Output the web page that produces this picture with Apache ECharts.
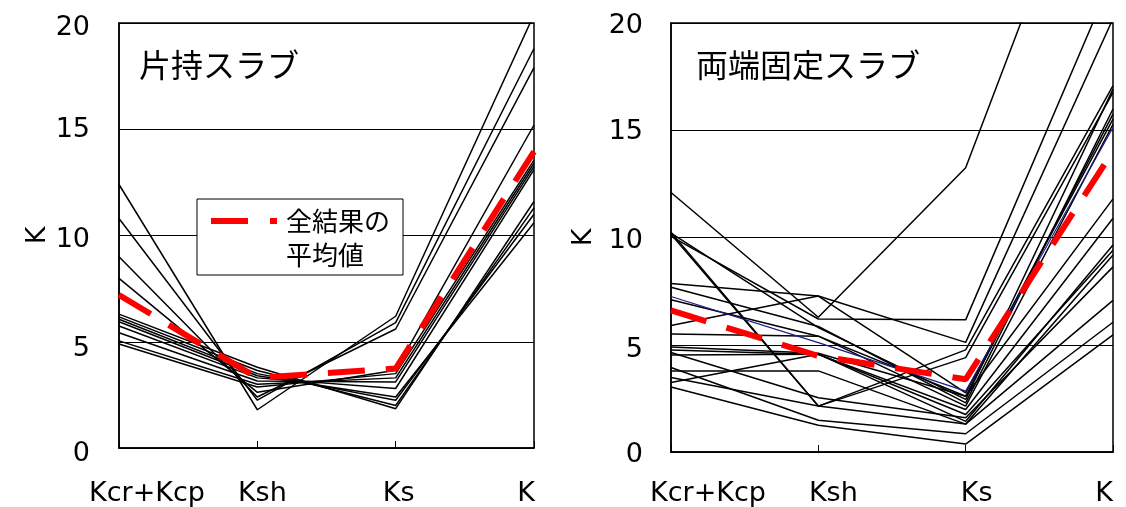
<!DOCTYPE html>
<html><head><meta charset="utf-8">
<script src="https://cdn.jsdelivr.net/npm/echarts@6/dist/echarts.min.js"></script>
<style>html,body{margin:0;padding:0;background:#fff}#c{width:1126px;height:507px}</style>
</head><body><div id="c"></div>
<script>
// ---------------- data ----------------
const categories = ['Kcr+Kcp', 'Ksh', 'Ks', 'K'];
const yMin = 0, yMax = 20, yInterval = 5;
const leftTitle = '片持スラブ';
const rightTitle = '両端固定スラブ';
const meanName = '全結果の平均値';
const meanLabel = '全結果の\n平均値';

// 片持スラブ: individual results [Kcr+Kcp, Ksh, Ks, K]
const leftLines = [
  [12.4, 1.8, 6.2, 20.4],
  [10.8, 2.25, 5.9, 18.8],
  [9.0, 2.4, 5.6, 17.9],
  [7.98, 2.62, 3.66, 15.2],
  [6.30, 3.8, 1.85, 11.6],
  [6.17, 3.65, 2.0, 11.3],
  [6.06, 3.5, 2.25, 11.0],
  [5.94, 3.4, 2.4, 10.6],
  [5.74, 3.3, 2.8, 13.1],
  [5.42, 3.15, 3.11, 13.25],
  [5.04, 3.0, 3.3, 13.4],
  [4.89, 2.87, 3.5, 13.55]
];
const leftMean = [7.2, 3.3, 3.74, 13.95];

// 両端固定スラブ: individual results [Kcr+Kcp, Ksh, Ks, K]
const rightLines = [
  [12.1, 6.28, 13.25, 31.3],
  [10.25, 2.14, 4.76, 17.08],
  [10.15, 2.14, 4.4, 16.77],
  [10.05, 6.2, 6.16, 22.2],
  [10.2, 5.8, 2.45, 16.92],
  [7.85, 7.27, 5.11, 20.2],
  [7.68, 5.85, 2.29, 15.99],
  [7.1, 5.4, 2.6, 15.75],
  [5.9, 7.27, 2.76, 15.52],
  [5.5, 5.4, 2.14, 15.28],
  [4.9, 4.6, 2.6, 11.8],
  [4.75, 4.55, 1.98, 10.9],
  [4.64, 2.53, 1.6, 8.63],
  [4.52, 4.56, 1.43, 9.65],
  [3.94, 1.48, 0.85, 6.05],
  [3.78, 3.78, 1.3, 9.18],
  [3.47, 2.14, 1.3, 7.07],
  [3.24, 4.56, 1.75, 9.41],
  [3.03, 1.25, 0.37, 5.46]
];
const rightBlue = [7.25, 5.1, 2.84, 15.13];
const rightMean = [6.6, 4.48, 3.39, 14.03];

// ---------------- chart ----------------
const NUM_FONT = 'DejaVu Sans';
const JP_FONT = 'Noto Sans CJK JP';

function xLabel(shifts, margin) {
  const rich = {};
  shifts.forEach((s, i) => {
    rich['s' + i] = {fontFamily: NUM_FONT, fontSize: 27, color: '#000',
      padding: s >= 0 ? [0, 0, 0, 2 * s] : [0, -2 * s, 0, 0]};
  });
  return {interval: 0, margin: margin, fontFamily: NUM_FONT, fontSize: 27, color: '#000',
    formatter: (v, i) => '{s' + i + '|' + v + '}', rich: rich};
}
function yLabel(shifts, margin) {
  const rich = {};
  shifts.forEach((s, i) => {
    rich['t' + i] = {fontFamily: NUM_FONT, fontSize: 27, color: '#000',
      padding: s >= 0 ? [2 * s, 0, 0, 0] : [0, 0, -2 * s, 0]};
  });
  return {margin: margin, fontFamily: NUM_FONT, fontSize: 27, color: '#000',
    formatter: (v, i) => '{t' + i + '|' + v + '}', rich: rich};
}
function xAxis(grid, shifts, margin) {
  return {type: 'category', gridIndex: grid, data: categories, boundaryGap: false,
    axisLine: {lineStyle: {color: '#000', width: 1.5}},
    axisTick: {show: true, inside: true, length: 7, lineStyle: {color: '#000', width: 1}},
    axisLabel: xLabel(shifts, margin), splitLine: {show: false}};
}
function yAxis(grid, shifts, margin, nameGap) {
  return {type: 'value', gridIndex: grid, min: yMin, max: yMax, interval: yInterval,
    name: 'K', nameLocation: 'middle', nameGap: nameGap,
    nameTextStyle: {fontFamily: NUM_FONT, fontSize: 27, color: '#000'},
    axisLine: {show: true, lineStyle: {color: '#000', width: 1.5}},
    axisTick: {show: false},
    axisLabel: yLabel(shifts, margin),
    splitLine: {show: true, lineStyle: {color: '#000', width: 1}}};
}
function blackSeries(lines, idx) {
  return lines.map((d, k) => ({type: 'line', name: 'r' + idx + '_' + k, xAxisIndex: idx, yAxisIndex: idx,
    data: d, symbol: 'none', silent: true, z: 2, lineStyle: {color: '#000', width: 1.5}}));
}
const redStyle = {color: '#ff0000', width: 6, type: [37, 21], cap: 'butt'};

const option = {
  animation: false,
  backgroundColor: '#fff',
  title: [
    {text: leftTitle, left: 139, top: 49, padding: 0,
     textStyle: {fontFamily: JP_FONT, fontSize: 32, fontWeight: 'normal', color: '#000'}},
    {text: rightTitle, left: 696, top: 49, padding: 0,
     textStyle: {fontFamily: JP_FONT, fontSize: 32, fontWeight: 'normal', color: '#000'}}
  ],
  legend: {
    data: [{name: meanName, icon: 'path://M0,0h37v6h-37zM59,0h7v6h-7zM0,40h70'}],
    left: 197, top: 199, padding: [5, 13, 3, 14],
    itemWidth: 70, itemHeight: 40, itemGap: 0, selectedMode: false,
    formatter: () => meanLabel,
    textStyle: {fontFamily: JP_FONT, fontSize: 26, lineHeight: 34, color: '#000'},
    backgroundColor: '#fff', borderColor: '#000', borderWidth: 1, borderRadius: 0,
    itemStyle: {color: '#ff0000', borderWidth: 0}
  },
  grid: [
    {left: 119, top: 23, width: 415, height: 425, show: true, borderColor: '#000', borderWidth: 1.5, backgroundColor: 'transparent'},
    {left: 671, top: 23, width: 442, height: 429, show: true, borderColor: '#000', borderWidth: 1.5, backgroundColor: 'transparent'}
  ],
  xAxis: [xAxis(0, [28, 5, 3, -8], 32), xAxis(1, [37, 15, 11, -9], 28)],
  yAxis: [yAxis(0, [6, 7, 4, 1, 5], 29, 67), yAxis(1, [3, 5, 3, 2, 3], 28, 74)],
  series: [].concat(
    blackSeries(leftLines, 0),
    blackSeries(rightLines, 1),
    [{type: 'line', name: 'blue', xAxisIndex: 1, yAxisIndex: 1, data: rightBlue, symbol: 'none', silent: true, z: 3,
      lineStyle: {color: '#1a1a8c', width: 1.2}}],
    [{type: 'line', name: meanName, xAxisIndex: 0, yAxisIndex: 0, data: leftMean, symbol: 'none', silent: true, z: 4, lineStyle: redStyle},
     {type: 'line', name: meanName + '2', xAxisIndex: 1, yAxisIndex: 1, data: rightMean, symbol: 'none', silent: true, z: 4, lineStyle: redStyle}]
  )
};
echarts.init(document.getElementById('c')).setOption(option);
</script></body></html>
